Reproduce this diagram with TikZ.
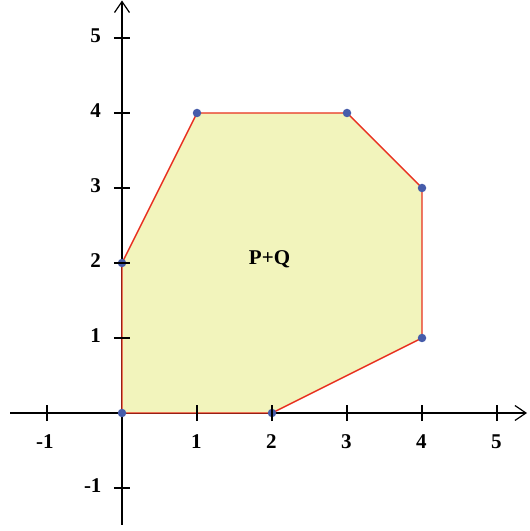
\documentclass[tikz,border=0pt]{standalone}
\usepackage{fontspec}
\setmainfont{Liberation Serif}
\usetikzlibrary{arrows.meta}
\definecolor{polyfill}{RGB}{242,244,188}
\definecolor{polyedge}{RGB}{232,48,32}
\definecolor{dotcol}{RGB}{70,92,170}
\begin{document}
\begin{tikzpicture}[x=75pt,y=75pt,
  axis/.style={line width=1.2pt,black},
  tick/.style={line width=1.2pt,black},
  lab/.style={font=\bfseries\fontsize{21}{23}\selectfont,inner sep=0pt},
  vdot/.style={circle,fill=dotcol,inner sep=0pt,minimum size=8.5pt}]
\useasboundingbox (-122/75,-118/75) rectangle (407/75,413/75);
% axes
\coordinate (xs) at (-1.493,0);
\coordinate (xe) at (5.40,0);
\coordinate (ys) at (0,-1.493);
\coordinate (ye) at (0,5.50);
\draw[axis,-{Straight Barb[length=11pt,width=15pt,line width=1.2pt]}] (xs) -- (xe);
\draw[axis,-{Straight Barb[length=11pt,width=15pt,line width=1.2pt]}] (ys) -- (ye);
% polygon
\coordinate (a) at (0,0);
\coordinate (b) at (2,0);
\coordinate (c) at (4,1);
\coordinate (d) at (4,3);
\coordinate (e) at (3,4);
\coordinate (f) at (1,4);
\coordinate (g) at (0,2);
\draw[fill=polyfill,draw=polyedge,line width=1.4pt,line join=round] (a) -- (b) -- (c) -- (d) -- (e) -- (f) -- (g) -- cycle;
\foreach \p in {a,b,c,d,e,f,g} \node[vdot] (dot\p) at (\p) {};
% ticks
\foreach \t in {-1,1,2,3,4,5} {
  \draw[tick] (\t,-0.107) -- (\t,0.107);
  \draw[tick] (-0.107,\t) -- (0.107,\t);
}
\foreach \t in {1,2,3,4,5} \node[lab] (xl\t) at (\t-0.01,-0.387) {\t};
\node[lab] (xlm) at (-1.027,-0.387) {-1};
\foreach \t in {1,2,3,4,5} \node[lab] (yl\t) at (-0.353,\t+0.035) {\t};
\node[lab] (ylm) at (-0.39,-0.965) {-1};
\node[lab] (pq) at (1.967,2.047) {P+Q};
\end{tikzpicture}
\end{document}
